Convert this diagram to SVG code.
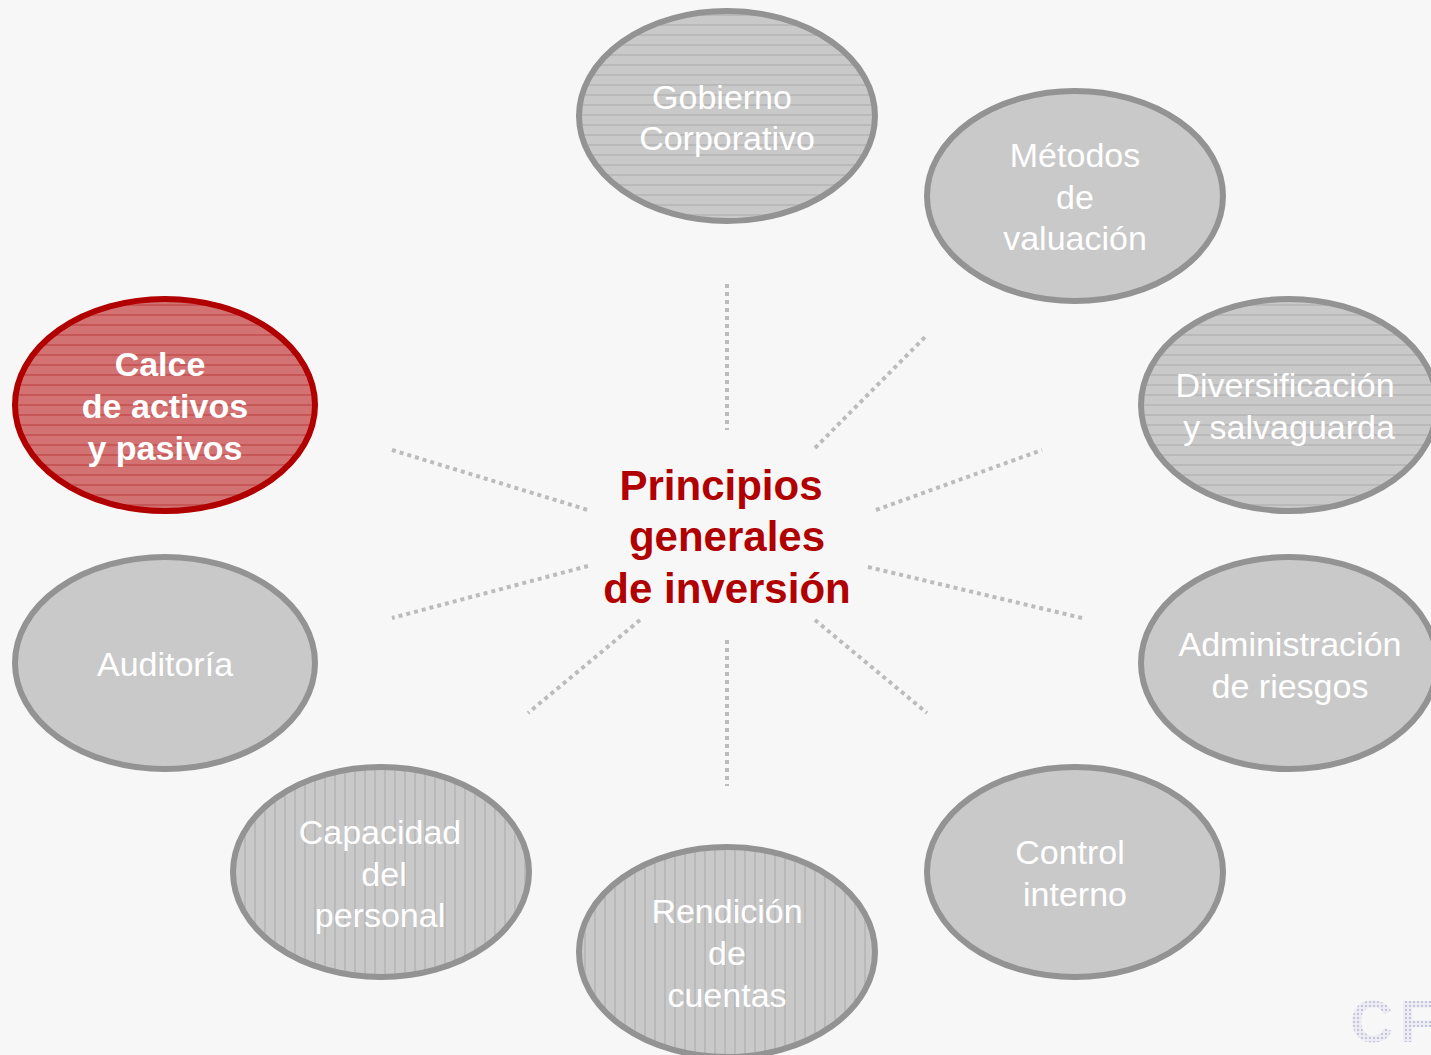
<svg xmlns="http://www.w3.org/2000/svg" width="1431" height="1055" viewBox="0 0 1431 1055">
<defs>
<pattern id="hl" patternUnits="userSpaceOnUse" width="10" height="10">
<rect width="10" height="10" fill="#c9c9c9"/>
<line x1="0" y1="5" x2="10" y2="5" stroke="#aaaaaa" stroke-width="1"/>
</pattern>
<pattern id="vl" patternUnits="userSpaceOnUse" width="10" height="10">
<rect width="10" height="10" fill="#c9c9c9"/>
<line x1="5" y1="0" x2="5" y2="10" stroke="#aaaaaa" stroke-width="1"/>
</pattern>
<pattern id="rl" patternUnits="userSpaceOnUse" width="10" height="10">
<rect width="10" height="10" fill="#d27272"/>
<line x1="0" y1="5" x2="10" y2="5" stroke="#bc3c3c" stroke-width="1"/>
</pattern>
<pattern id="dots" patternUnits="userSpaceOnUse" width="4" height="4">
<rect width="4" height="4" fill="#ececf2"/>
<rect x="1" y="1" width="2" height="2" fill="#c4c4da"/>
</pattern>
</defs>
<style>
.g{stroke:#939393;stroke-width:6}
.plain{fill:#c9c9c9}
.h{fill:url(#hl)}
.v{fill:url(#vl)}
.red{fill:url(#rl);stroke:#b00000;stroke-width:6}
.t{font-family:"Liberation Sans",Arial,sans-serif;font-size:34px;fill:#ffffff;text-anchor:middle}
.tb{font-family:"Liberation Sans",Arial,sans-serif;font-size:34px;font-weight:bold;fill:#ffffff;text-anchor:middle}
.c{font-family:"Liberation Sans",Arial,sans-serif;font-size:42px;font-weight:bold;fill:#b00000;text-anchor:middle}
.con{stroke:#bcbcbc;stroke-width:4;stroke-dasharray:4 4;fill:none}
</style>
<rect width="1431" height="1055" fill="#f7f7f7"/>

<g id="connectors">
<line class="con" x1="727" y1="284" x2="727" y2="430"/>
<line class="con" x1="727" y1="640" x2="727" y2="786"/>
<line class="con" x1="815" y1="448" x2="927" y2="335"/>
<line class="con" x1="876" y1="510" x2="1042" y2="450"/>
<line class="con" x1="868" y1="567" x2="1082" y2="618"/>
<line class="con" x1="815" y1="620" x2="927" y2="713"/>
<line class="con" x1="640" y1="620" x2="528" y2="713"/>
<line class="con" x1="588" y1="566" x2="392" y2="618"/>
<line class="con" x1="392" y1="450" x2="588" y2="510"/>
</g>

<g id="center">
<text class="c" x="721" y="500">Principios</text>
<text class="c" x="727" y="551">generales</text>
<text class="c" x="727" y="603">de inversión</text>
</g>

<g id="gobierno">
<ellipse class="g h" cx="727" cy="116" rx="148" ry="105"/>
<text class="t" x="722" y="109">Gobierno</text>
<text class="t" x="727" y="150">Corporativo</text>
</g>

<g id="metodos">
<ellipse class="g plain" cx="1075" cy="196" rx="148" ry="105"/>
<text class="t" x="1075" y="167">Métodos</text>
<text class="t" x="1075" y="209">de</text>
<text class="t" x="1075" y="250">valuación</text>
</g>

<g id="diversificacion">
<ellipse class="g h" cx="1289" cy="405" rx="148" ry="106"/>
<text class="t" x="1285" y="397">Diversificación</text>
<text class="t" x="1289" y="439">y salvaguarda</text>
</g>

<g id="administracion">
<ellipse class="g plain" cx="1289" cy="663" rx="148" ry="106"/>
<text class="t" x="1290" y="656">Administración</text>
<text class="t" x="1290" y="698">de riesgos</text>
</g>

<g id="control">
<ellipse class="g plain" cx="1075" cy="872" rx="148" ry="105"/>
<text class="t" x="1070" y="864">Control</text>
<text class="t" x="1075" y="906">interno</text>
</g>

<g id="rendicion">
<ellipse class="g v" cx="727" cy="952" rx="148" ry="105"/>
<text class="t" x="727" y="923">Rendición</text>
<text class="t" x="727" y="965">de</text>
<text class="t" x="727" y="1007">cuentas</text>
</g>

<g id="capacidad">
<ellipse class="g v" cx="381" cy="872" rx="148" ry="105"/>
<text class="t" x="380" y="844">Capacidad</text>
<text class="t" x="384" y="886">del</text>
<text class="t" x="380" y="927">personal</text>
</g>

<g id="auditoria">
<ellipse class="g plain" cx="165" cy="663" rx="150" ry="106"/>
<text class="t" x="165" y="676">Auditoría</text>
</g>

<g id="calce">
<ellipse class="red" cx="165" cy="405" rx="150" ry="106"/>
<text class="tb" x="160" y="376">Calce</text>
<text class="tb" x="165" y="418">de activos</text>
<text class="tb" x="165" y="460">y pasivos</text>
</g>

<g id="logo">
<text x="1350" y="1042" font-family="Liberation Sans, Arial, sans-serif" font-size="60" font-weight="bold" letter-spacing="6" fill="url(#dots)">CF</text>
</g>
</svg>
